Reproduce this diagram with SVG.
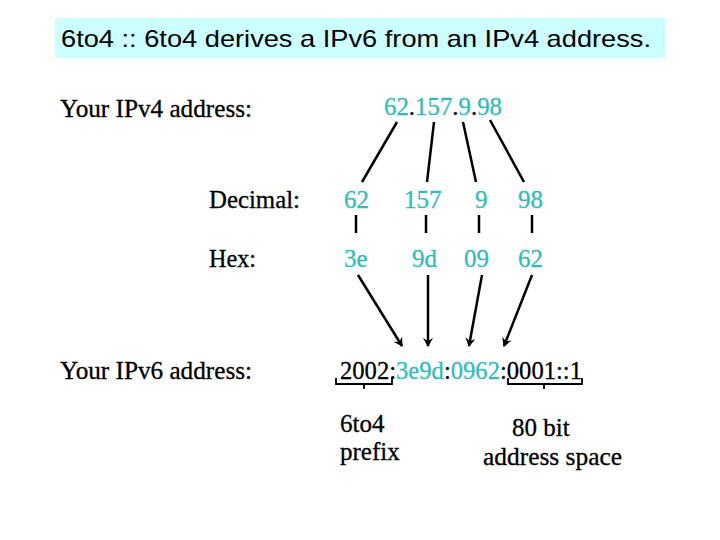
<svg xmlns="http://www.w3.org/2000/svg" width="720" height="540" viewBox="0 0 720 540">
<style>
.s{font-family:"Liberation Serif",serif;font-size:25px;fill:#000;stroke:#000;stroke-width:0.3}
.c{fill:#33bbbb;stroke:#33bbbb}
.l{stroke:#000;stroke-width:2.5;fill:none}
.b{stroke:#000;stroke-width:1.8;fill:none}
</style>
<defs><marker id="a" markerWidth="10" markerHeight="10" refX="8" refY="5" orient="auto" markerUnits="userSpaceOnUse"><path d="M0,0 L9,5 L0,10 L3,5 Z" fill="#000"/></marker></defs>
<rect width="720" height="540" fill="#fff"/>
<g id="title"><rect x="55" y="18" width="611" height="40" fill="#ccffff"/>
<text x="61" y="47" textLength="590" lengthAdjust="spacingAndGlyphs" style="font-family:'Liberation Sans',sans-serif;font-size:24px">6to4 :: 6to4 derives a IPv6 from an IPv4 address.</text></g>
<g id="labels">
<text class="s" x="60" y="117" textLength="192" lengthAdjust="spacingAndGlyphs">Your IPv4 address:</text>
<text class="s" x="209" y="208" textLength="91" lengthAdjust="spacingAndGlyphs">Decimal:</text>
<text class="s" x="209" y="267" textLength="47" lengthAdjust="spacingAndGlyphs">Hex:</text>
<text class="s" x="60" y="379" textLength="192" lengthAdjust="spacingAndGlyphs">Your IPv6 address:</text>
</g>
<g id="ipv4"><text class="s" x="384" y="115" textLength="118" lengthAdjust="spacingAndGlyphs"><tspan class="c">62</tspan>.<tspan class="c">157</tspan>.<tspan class="c">9</tspan>.<tspan class="c">98</tspan></text></g>
<g id="decimal">
<text class="s c" x="344" y="208">62</text><text class="s c" x="404" y="208">157</text><text class="s c" x="475" y="208">9</text><text class="s c" x="518" y="208">98</text>
</g>
<g id="hex">
<text class="s c" x="344" y="267">3e</text><text class="s c" x="412" y="267">9d</text><text class="s c" x="464" y="267">09</text><text class="s c" x="518" y="267">62</text>
</g>
<g id="ipv6"><text class="s" x="340" y="379" textLength="242" lengthAdjust="spacingAndGlyphs">2002:<tspan class="c">3e9d</tspan>:<tspan class="c">0962</tspan>:0001::1</text></g>
<g id="notes">
<text class="s" x="340" y="432">6to4</text><text class="s" x="340" y="460">prefix</text>
<text class="s" x="512" y="436">80 bit</text><text class="s" x="483" y="465" textLength="139" lengthAdjust="spacingAndGlyphs">address space</text>
</g>
<g id="connectors">
<path class="l" d="M397,122 L362,182 M434,122 L427,182 M463,122 L476,182 M490,120 L524,182"/>
<path class="l" d="M356,215 V233 M426,215 V233 M479,215 V233 M532,215 V233"/>
<path class="l" marker-end="url(#a)" d="M358,275 L402,346"/>
<path class="l" marker-end="url(#a)" d="M428,275 L428,346"/>
<path class="l" marker-end="url(#a)" d="M482,275 L469,346"/>
<path class="l" marker-end="url(#a)" d="M532,275 L504,346"/>
<path class="b" d="M336,378 V384 H392 V378 M364,384 V389"/>
<path class="b" d="M508,378 V384 H582 V378 M544,384 V389"/>
</g>
</svg>
